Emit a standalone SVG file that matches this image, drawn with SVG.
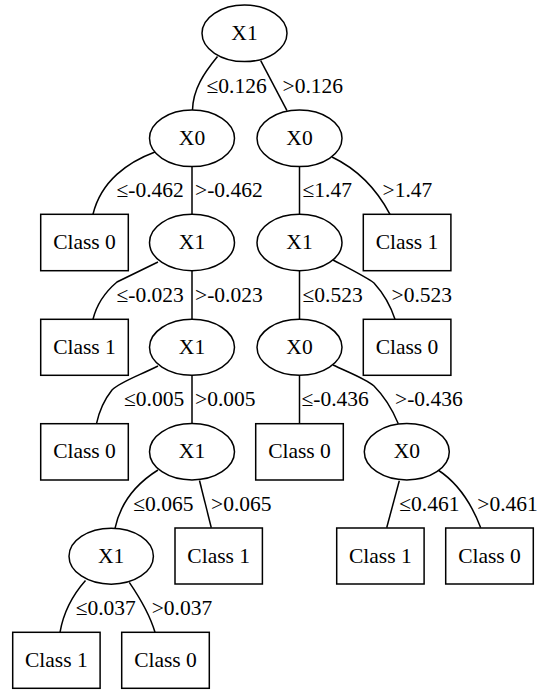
<svg xmlns="http://www.w3.org/2000/svg" width="544" height="692" viewBox="0 0 544 692">
  <style>
    .node ellipse, .node rect { fill: #ffffff; stroke: #000000; stroke-width: 1.5; }
    .node text { text-anchor: middle; }
    #edges path { fill: none; stroke: #000000; stroke-width: 1.5; }
  </style>
  <rect width="544" height="692" fill="#ffffff"/>

  <!-- connectors -->
  <g id="edges">
    <path d="M217.5,56.5 C204,73 193,89 192.5,110"/>
    <path d="M260.7,60.7 L287,110.7"/>
    <path d="M155,152 C128,162 101,181 93,214.3"/>
    <path d="M192,166.7 L192,214.3"/>
    <path d="M158,262 L117,282 C104,293 96,307 93,319.3"/>
    <path d="M192,270.7 L192,319.3"/>
    <path d="M158,366 C138,376 120,382 112,390 C104,400 99,412 96.5,423.7"/>
    <path d="M192,375.3 L192,423.7"/>
    <path d="M158,470 C134,485 120,505 115,528.3"/>
    <path d="M199.5,480.5 L211.3,527.7"/>
    <path d="M85.5,580.5 C70,598 63,615 60,632.3"/>
    <path d="M129.3,582.3 C140,598 150,615 155,632.3"/>
    <path d="M299.5,166.7 L299.5,214.3"/>
    <path d="M332,157 C355,168 375,186 390,214.3"/>
    <path d="M333,260 C350,269 366,277 374,283 C384,294 391,307 395,319.3"/>
    <path d="M299.5,270.7 L299.5,319.3"/>
    <path d="M299.5,375.3 L299.5,423.7"/>
    <path d="M333,365 C350,373 366,379 374,386 C386,398 393,411 398.3,423.7"/>
    <path d="M399.3,480.7 L386.7,527.7"/>
    <path d="M438,470 C458,483 472,505 480.7,527.7"/>
  </g>

  <g font-family="Liberation Serif, Times New Roman, serif" font-size="21.5" fill="#000000">
    <!-- edge labels -->
    <g id="edge-labels">
      <text x="206.5" y="92.5">≤0.126</text>
      <text x="282.5" y="92.5">&gt;0.126</text>
      <text x="116.5" y="197">≤-0.462</text>
      <text x="195" y="197">&gt;-0.462</text>
      <text x="302.5" y="197">≤1.47</text>
      <text x="382.5" y="197">&gt;1.47</text>
      <text x="116.5" y="301.5">≤-0.023</text>
      <text x="195" y="301.5">&gt;-0.023</text>
      <text x="302.5" y="301.5">≤0.523</text>
      <text x="391.5" y="301.5">&gt;0.523</text>
      <text x="124" y="406">≤0.005</text>
      <text x="195" y="406">&gt;0.005</text>
      <text x="301.5" y="406">≤-0.436</text>
      <text x="395" y="406">&gt;-0.436</text>
      <text x="133.3" y="510.5">≤0.065</text>
      <text x="211" y="510.5">&gt;0.065</text>
      <text x="399.3" y="510.5">≤0.461</text>
      <text x="477.3" y="510.5">&gt;0.461</text>
      <text x="75.7" y="615">≤0.037</text>
      <text x="151.7" y="615">&gt;0.037</text>
    </g>

    <!-- nodes -->
    <g id="n0" class="node"><ellipse cx="244.5" cy="33.3" rx="42.5" ry="28.3"/><text x="244.5" y="40">X1</text></g>
    <g id="n1" class="node"><ellipse cx="192" cy="138.3" rx="42.5" ry="28.3"/><text x="192" y="145">X0</text></g>
    <g id="n2" class="node"><ellipse cx="299.5" cy="138.3" rx="42.5" ry="28.3"/><text x="299.5" y="145">X0</text></g>
    <g id="n3" class="node"><rect x="40.7" y="214.3" width="87.6" height="56.4"/><text x="84.5" y="249">Class 0</text></g>
    <g id="n4" class="node"><ellipse cx="192" cy="242.5" rx="42.5" ry="28.2"/><text x="192" y="249">X1</text></g>
    <g id="n5" class="node"><ellipse cx="299.5" cy="242.5" rx="42.5" ry="28.2"/><text x="299.5" y="249">X1</text></g>
    <g id="n6" class="node"><rect x="363.3" y="214.3" width="87.6" height="56.4"/><text x="407" y="249">Class 1</text></g>
    <g id="n7" class="node"><rect x="40.7" y="319.3" width="87.6" height="56"/><text x="84.5" y="353.7">Class 1</text></g>
    <g id="n8" class="node"><ellipse cx="192" cy="347.3" rx="42.5" ry="28"/><text x="192" y="353.7">X1</text></g>
    <g id="n9" class="node"><ellipse cx="299.5" cy="347.3" rx="42.5" ry="28"/><text x="299.5" y="353.7">X0</text></g>
    <g id="n10" class="node"><rect x="363.3" y="319.3" width="87.6" height="56"/><text x="407" y="353.7">Class 0</text></g>
    <g id="n11" class="node"><rect x="40.7" y="423.7" width="87.6" height="56.3"/><text x="84.5" y="458.3">Class 0</text></g>
    <g id="n12" class="node"><ellipse cx="192" cy="451.8" rx="42.5" ry="28.2"/><text x="192" y="458.3">X1</text></g>
    <g id="n13" class="node"><rect x="255.7" y="423.7" width="87.6" height="56.3"/><text x="299.5" y="458.3">Class 0</text></g>
    <g id="n14" class="node"><ellipse cx="406.8" cy="451.8" rx="42.5" ry="28.2"/><text x="406.8" y="458.3">X0</text></g>
    <g id="n15" class="node"><ellipse cx="111.2" cy="556.2" rx="42.2" ry="28"/><text x="111.2" y="562.8">X1</text></g>
    <g id="n16" class="node"><rect x="175" y="528" width="87.4" height="56"/><text x="218.7" y="562.8">Class 1</text></g>
    <g id="n17" class="node"><rect x="336.7" y="528" width="87.4" height="56"/><text x="380.3" y="562.8">Class 1</text></g>
    <g id="n18" class="node"><rect x="445.7" y="528" width="87.6" height="56"/><text x="489.5" y="562.8">Class 0</text></g>
    <g id="n19" class="node"><rect x="12.7" y="632.3" width="87.4" height="56"/><text x="56.3" y="667">Class 1</text></g>
    <g id="n20" class="node"><rect x="121.7" y="632.3" width="87.6" height="56"/><text x="165.5" y="667">Class 0</text></g>
  </g>
</svg>
